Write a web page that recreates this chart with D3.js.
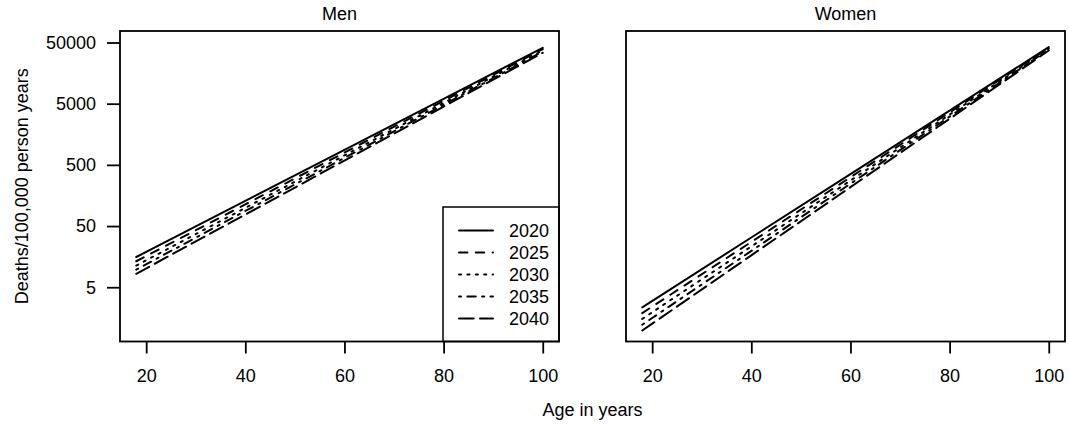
<!DOCTYPE html>
<html>
<head>
<meta charset="utf-8"/>
<script src="https://d3js.org/d3.v7.min.js"></script>
<style type="text/css">
body { margin: 0; background: #fff; }
svg text { font-family: "Liberation Sans", Arial, sans-serif; font-size: 18px; fill: #000; }
.frame { fill: none; stroke: #000; stroke-width: 1.8; }
.tick line { stroke: #000; stroke-width: 1.8; }
.series { fill: none; stroke: #000; stroke-width: 2; stroke-linecap: round; }
</style>
</head>
<body>
<script>
// Data
var ages = [18, 40, 60, 80, 100];
var years = ["2020", "2025", "2030", "2035", "2040"];

var menRates = [
    [15.6, 129, 881, 6010, 41000],
    [13.3, 113, 794, 5570, 39000],
    [11.3,  99, 714, 5140, 37000],
    [ 9.7,  88, 649, 4800, 35500],
    [ 8.3,  77, 588, 4470, 34000]
];

var womenRates = [
    [2.35, 32.5, 354, 3860, 42000],
    [1.89, 27.5, 314, 3590, 41000],
    [1.52, 23.2, 277, 3310, 39500],
    [1.22, 19.6, 246, 3070, 38500],
    [0.98, 16.6, 216, 2830, 37000]
];

var panels = ["Men", "Women"];
var xTicks = [20, 40, 60, 80, 100];
var yTicks = [5, 50, 500, 5000, 50000];
var yLimits = [1, 50000];

// R style line types (lwd = 2)
var dashes = [null, "8.4,8.4", "2.1,6.3", "2.1,6.3,8.4,6.3", "14.7,6.3"];

// Layout
var width = 1069,
    height = 424,
    panelW = 439,
    panelH = 310.5,
    plotTop = 31,
    lefts = [120, 626];

var svg = d3.select("body")
            .append("svg")
            .attr("width", width)
            .attr("height", height);

svg.append("rect")
   .attr("width", width)
   .attr("height", height)
   .attr("fill", "#fff");

// R adds 4% on each side of the data range
var xr = d3.extent(ages),
    xpad = (xr[1] - xr[0]) * 0.04;
var x = d3.scaleLinear()
          .domain([xr[0] - xpad, xr[1] + xpad])
          .range([0, panelW]);

var ly = yLimits.map(Math.log10),
    ypad = (ly[1] - ly[0]) * 0.04;
var y = d3.scaleLog()
          .domain([Math.pow(10, ly[0] - ypad), Math.pow(10, ly[1] + ypad)])
          .range([panelH, 0]);

var line = d3.line()
             .x(function(d, i) { return x(ages[i]); })
             .y(function(d) { return y(d); });

var allRates = [menRates, womenRates];

panels.forEach(function(name, p) {
    var g = svg.append("g")
               .attr("transform", "translate(" + lefts[p] + "," + plotTop + ")");

    // series
    g.selectAll(".series")
     .data(allRates[p])
     .enter()
     .append("path")
     .attr("class", "series")
     .attr("d", line)
     .attr("stroke-dasharray", function(d, i) { return dashes[i]; });

    // x axis
    var xAxis = g.append("g")
                 .attr("transform", "translate(0," + panelH + ")")
                 .call(d3.axisBottom(x)
                         .tickValues(xTicks)
                         .tickSize(12)
                         .tickSizeOuter(0)
                         .tickPadding(16));
    xAxis.select(".domain").remove();
    xAxis.attr("font-family", null).attr("font-size", null);

    // y axis only on the first panel
    if (p === 0) {
        var yAxis = g.append("g")
                     .call(d3.axisLeft(y)
                             .tickValues(yTicks)
                             .tickFormat(d3.format("d"))
                             .tickSize(13)
                             .tickSizeOuter(0)
                             .tickPadding(11));
        yAxis.select(".domain").remove();
        yAxis.attr("font-family", null).attr("font-size", null);
    }

    // frame
    g.append("rect")
     .attr("class", "frame")
     .attr("width", panelW)
     .attr("height", panelH);

    // panel title
    g.append("text")
     .attr("x", panelW / 2)
     .attr("y", -11)
     .attr("text-anchor", "middle")
     .text(name);
});

// legend in the Men panel
var legendX = 443,
    legendY = 207;

var legend = svg.append("g")
                .attr("transform", "translate(" + legendX + "," + legendY + ")");

legend.append("rect")
      .attr("class", "frame")
      .attr("width", lefts[0] + panelW - legendX)
      .attr("height", plotTop + panelH - legendY)
      .style("stroke-width", 1.5);

var rows = legend.selectAll(".row")
                 .data(years)
                 .enter()
                 .append("g")
                 .attr("transform", function(d, i) { return "translate(0," + (23.5 + i * 22) + ")"; });

rows.append("line")
    .attr("class", "series")
    .attr("x1", 16)
    .attr("x2", 50)
    .attr("stroke-dasharray", function(d, i) { return dashes[i]; });

rows.append("text")
    .attr("x", 66)
    .attr("dy", "0.36em")
    .text(function(d) { return d; });

// shared axis titles
svg.append("text")
   .attr("x", (lefts[0] + lefts[1] + panelW) / 2)
   .attr("y", 416)
   .attr("text-anchor", "middle")
   .text("Age in years");

svg.append("text")
   .attr("transform", "translate(28," + (plotTop + panelH / 2) + ") rotate(-90)")
   .attr("text-anchor", "middle")
   .text("Deaths/100,000 person years");
</script>
</body>
</html>
